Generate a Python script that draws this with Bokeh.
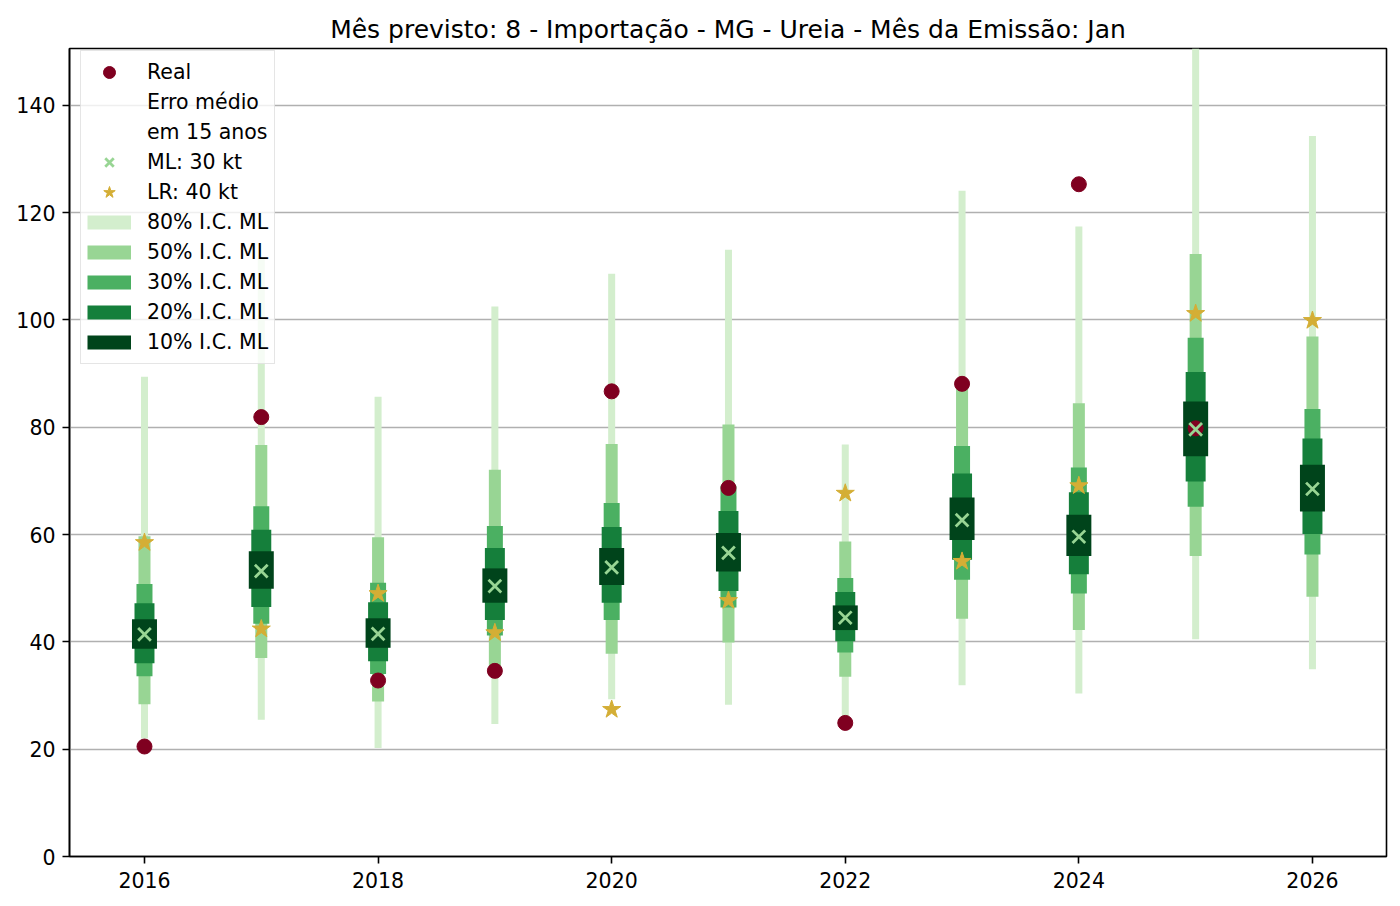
from bokeh.plotting import figure
from bokeh.models import Range1d, FixedTicker, Legend, LegendItem, ColumnDataSource
from bokeh.embed import file_html
from bokeh.resources import INLINE

# ---------------- data ----------------
years = [2016, 2017, 2018, 2019, 2020, 2021, 2022, 2023, 2024, 2025, 2026]
real_years = [2016, 2017, 2018, 2019, 2020, 2021, 2022, 2023, 2024, 2025]
real = [20.5, 81.9, 32.8, 34.6, 86.7, 68.7, 24.9, 88.1, 125.3, 79.8]
ml = [41.4, 53.2, 41.5, 50.4, 53.9, 56.6, 44.5, 62.7, 59.6, 79.6, 68.5]
lr = [58.5, 42.4, 49.0, 41.7, 27.4, 47.7, 67.7, 55.0, 69.1, 101.2, 99.9]

ci80_lo = [22.0, 25.5, 20.2, 24.7, 29.3, 28.3, 25.8, 31.9, 30.4, 40.5, 34.9]
ci80_hi = [89.4, 111.6, 85.7, 102.5, 108.6, 113.1, 76.8, 124.1, 117.4, 158.0, 134.3]
ci50_lo = [28.4, 37.0, 28.9, 35.5, 37.8, 39.9, 33.5, 44.3, 42.2, 56.0, 48.4]
ci50_hi = [59.7, 76.7, 59.5, 72.1, 76.9, 80.5, 58.7, 87.3, 84.5, 112.3, 96.9]
ci30_lo = [33.6, 43.4, 34.0, 41.2, 44.1, 46.4, 38.0, 51.6, 49.0, 65.2, 56.3]
ci30_hi = [50.8, 65.3, 51.0, 61.6, 65.9, 69.1, 51.9, 76.5, 72.5, 96.7, 83.4]
ci20_lo = [36.0, 46.5, 36.4, 44.1, 47.3, 49.5, 40.1, 55.3, 52.6, 69.9, 60.1]
ci20_hi = [47.2, 60.9, 47.4, 57.5, 61.4, 64.4, 49.3, 71.4, 67.9, 90.3, 77.9]
ci10_lo = [38.7, 49.9, 38.9, 47.3, 50.6, 53.1, 42.2, 59.0, 56.0, 74.6, 64.3]
ci10_hi = [44.2, 56.9, 44.4, 53.7, 57.5, 60.3, 46.8, 66.9, 63.7, 84.8, 73.0]

ci_labels = ["80% I.C. ML", "50% I.C. ML", "30% I.C. ML", "20% I.C. ML", "10% I.C. ML"]
x_ticks = [2016, 2018, 2020, 2022, 2024, 2026]
y_ticks = [0, 20, 40, 60, 80, 100, 120, 140]
title_text = "Mês previsto: 8 - Importação - MG - Ureia - Mês da Emissão: Jan"

# ---------------- styles ----------------
ci_colors = ["#d3eecd", "#98d594", "#4bb062", "#157f3b", "#00441b"]
ci_widths = [0.060, 0.103, 0.137, 0.171, 0.214]
FONT = "DejaVu Sans"

src = ColumnDataSource(dict(
    year=years, ml=ml, lr=lr,
    lo80=ci80_lo, hi80=ci80_hi, lo50=ci50_lo, hi50=ci50_hi,
    lo30=ci30_lo, hi30=ci30_hi, lo20=ci20_lo, hi20=ci20_hi,
    lo10=ci10_lo, hi10=ci10_hi,
))
src_real = ColumnDataSource(dict(year=real_years, real=real))
# one-point source: a single-point line draws nothing, it only feeds the legend
src_one = ColumnDataSource(dict(year=years[:1], ml=ml[:1]))

p = figure(width=1392, height=898, output_backend="svg", toolbar_location=None,
           x_range=Range1d(2015.358, 2026.634), y_range=Range1d(0, 150.6),
           min_border_left=69, min_border_right=6, min_border_top=48,
           min_border_bottom=42, title=title_text)

p.title.align = "center"
p.title.text_font = FONT
p.title.text_font_style = "normal"
p.title.text_font_size = "25px"
p.title.text_color = "black"
p.title.offset = 2

p.background_fill_color = "white"
p.border_fill_color = "white"
p.outline_line_color = "black"
p.outline_line_width = 1.6
p.xgrid.visible = False
p.ygrid.grid_line_color = "#b0b0b0"
p.ygrid.grid_line_width = 1.5

for ax in (p.xaxis, p.yaxis):
    ax.axis_line_color = "black"
    ax.axis_line_width = 1.6
    ax.major_tick_line_color = "black"
    ax.major_tick_line_width = 1.6
    ax.major_tick_out = 7
    ax.major_tick_in = 0
    ax.minor_tick_line_color = None
    ax.major_label_text_font = FONT
    ax.major_label_text_font_size = "20.5px"
    ax.major_label_text_color = "black"
p.xaxis.ticker = FixedTicker(ticks=x_ticks)
p.yaxis.ticker = FixedTicker(ticks=y_ticks)
p.xaxis.major_label_standoff = 8
p.yaxis.major_label_standoff = 7

# bars
keys = ["80", "50", "30", "20", "10"]
legend_lines = []
for k, col, w in zip(keys, ci_colors, ci_widths):
    p.vbar(x="year", width=w, bottom="lo" + k, top="hi" + k, source=src,
           fill_color=col, line_color=None)
    legend_lines.append(p.line(x="year", y="ml", source=src_one, line_color=col,
                               line_width=14, line_cap="butt"))

r_real = p.scatter(x="year", y="real", source=src_real, marker="circle", size=15,
                   fill_color="#7f0020", line_color="#7f0020")
r_ml = p.scatter(x="year", y="ml", source=src, marker="x", size=18,
                 line_color="#98d594", line_width=2.8)
r_lr = p.scatter(x="year", y="lr", source=src, marker="star", size=19,
                 fill_color="#d4ae35", line_color="#d4ae35")
r_blank = p.scatter(x="year", y="ml", source=src_one, marker="circle", size=1,
                    fill_alpha=0, line_alpha=0)

items = [
    LegendItem(label="Real", renderers=[r_real]),
    LegendItem(label="Erro médio", renderers=[r_blank]),
    LegendItem(label="em 15 anos", renderers=[r_blank]),
    LegendItem(label="ML: 30 kt", renderers=[r_ml]),
    LegendItem(label="LR: 40 kt", renderers=[r_lr]),
]
for lab, rl in zip(ci_labels, legend_lines):
    items.append(LegendItem(label=lab, renderers=[rl]))

legend = Legend(items=items, location=(11, 492))
legend.glyph_width = 44
legend.glyph_height = 30
legend.spacing = 0
legend.padding = 6
legend.label_standoff = 16
legend.label_text_font = FONT
legend.label_text_font_size = "20.5px"
legend.label_text_color = "black"
legend.border_line_color = "#cccccc"
legend.border_line_width = 1.5
legend.background_fill_color = "white"
legend.background_fill_alpha = 0.8
p.add_layout(legend)

open("out.html", "w").write(file_html(p, INLINE))
